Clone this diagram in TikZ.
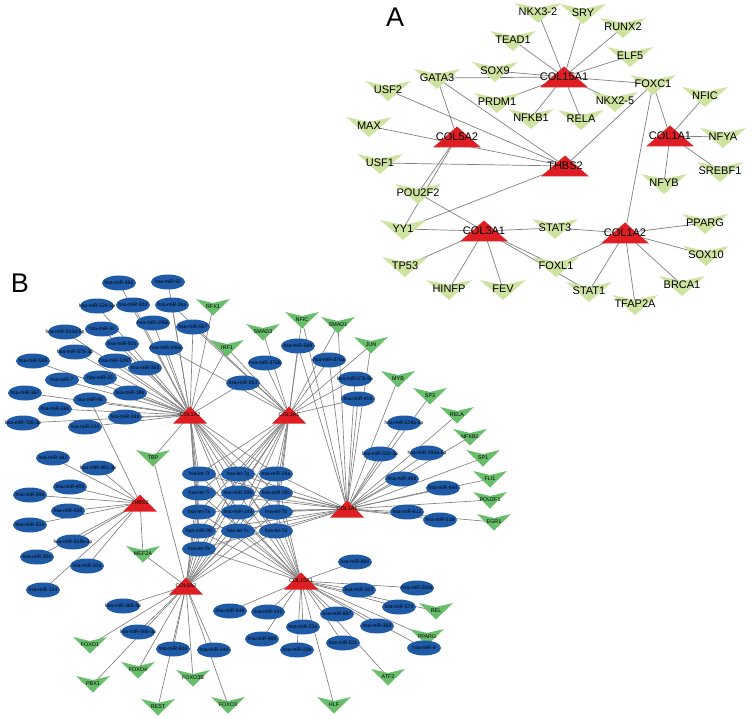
\documentclass[tikz,border=0pt]{standalone}
\usepackage{fontspec}
\setmainfont{Liberation Sans}
\usetikzlibrary{backgrounds}
\definecolor{hubred}{RGB}{222,30,34}
\definecolor{tfpale}{RGB}{207,227,160}
\definecolor{tfgreen}{RGB}{104,190,106}
\definecolor{mirblue}{RGB}{31,90,166}
\definecolor{edgegray}{RGB}{128,128,128}
% red hub triangles, green V markers, blue ellipses
\newcommand{\hubA}[3]{\fill[hubred] (#2) +(-24,10.5) -- +(0,-10.5) -- +(24,10.5) -- cycle;
  \node[labA] (#1) at (#2) {#3};}
\newcommand{\hubB}[3]{\fill[hubred] (#2) +(-17,8.5) -- +(0,-8.5) -- +(17,8.5) -- cycle;
  \node[labB] (#1) at (#2) {#3};}
\newcommand{\tfA}[3]{\fill[tfpale] (#2) +(-23,-9) -- +(0,-4) -- +(23,-9) -- +(0,11) -- cycle;
  \node[labA] (#1) at (#2) {#3};}
\newcommand{\tfB}[3]{\fill[tfgreen] (#2) +(-17,-8) -- +(0,-4) -- +(17,-8) -- +(0,8.5) -- cycle;
  \node[labB] (#1) at (#2) {#3};}
\newcommand{\mirB}[3]{\fill[mirblue] (#2) ellipse (17 and 7.5);
  \node[labM] (#1) at (#2) {#3};}

\begin{document}
\begin{tikzpicture}[x=1pt,y=-1pt,
    labA/.style={font=\fontsize{11}{11}\selectfont,inner sep=0pt},
    labB/.style={font=\fontsize{5.4}{5.4}\selectfont,inner sep=0pt},
    labM/.style={font=\fontsize{5}{5}\selectfont,inner sep=0pt},
    panel/.style={font=\fontsize{27}{27}\selectfont,inner sep=0pt},
    edgeA/.style={edgegray,line width=0.7pt},
    edgeB/.style={edgegray,line width=0.65pt}]
\useasboundingbox (0,0) rectangle (752,719);
%
\node[panel] (lblA) at (395,17) {A};
\node[panel] (lblB) at (20,283) {B};

%
\hubA{aC15}{564,77}{COL15A1}
\hubA{aC5}{457,137}{COL5A2}
\hubA{aC1A1}{670,136}{COL1A1}
\hubA{aTH}{565,166}{THBS2}
\hubA{aC3}{484,231}{COL3A1}
\hubA{aC1A2}{625,233}{COL1A2}
%
\tfA{aNKX32}{538,12}{NKX3-2}
\tfA{aSRY}{583,13}{SRY}
\tfA{aRUNX2}{623,27}{RUNX2}
\tfA{aTEAD1}{513,40}{TEAD1}
\tfA{aELF5}{630,56}{ELF5}
\tfA{aSOX9}{495,71}{SOX9}
\tfA{aGATA3}{437,78}{GATA3}
\tfA{aFOXC1}{653,84}{FOXC1}
\tfA{aUSF2}{388,90}{USF2}
\tfA{aNFIC}{705,96}{NFIC}
\tfA{aPRDM1}{497,102}{PRDM1}
\tfA{aNKX25}{615,101}{NKX2-5}
\tfA{aNFKB1}{531,118}{NFKB1}
\tfA{aRELA}{581,119}{RELA}
\tfA{aMAX}{369,126}{MAX}
\tfA{aNFYA}{723,137}{NFYA}
\tfA{aUSF1}{380,163}{USF1}
\tfA{aSREBF1}{720,171}{SREBF1}
\tfA{aNFYB}{664,183}{NFYB}
\tfA{aPOU2F2}{418,193}{POU2F2}
\tfA{aYY1}{403,229}{YY1}
\tfA{aSTAT3}{555,228}{STAT3}
\tfA{aPPARG}{705,223}{PPARG}
\tfA{aTP53}{405,266}{TP53}
\tfA{aFOXL1}{556,266}{FOXL1}
\tfA{aSOX10}{706,255}{SOX10}
\tfA{aHINFP}{449,289}{HINFP}
\tfA{aFEV}{503,289}{FEV}
\tfA{aSTAT1}{589,291}{STAT1}
\tfA{aBRCA1}{682,285}{BRCA1}
\tfA{aTFAP2A}{635,304}{TFAP2A}

%
\hubB{bC1A2}{190,415}{COL1A2}
\hubB{bC3}{289,415}{COL3A1}
\hubB{bTH}{140,503}{THBS2}
\hubB{bC1A1}{347,509}{COL1A1}
\hubB{bC5}{186,586}{COL5A2}
\hubB{bC15}{301,581}{COL15A1}
%
\tfB{tRFX1}{213,307}{RFX1}
\tfB{tIRF1}{227,348}{IRF1}
\tfB{tSMAD3}{263,332}{SMAD3}
\tfB{tNFIC}{302,320}{NFIC}
\tfB{tSMAD1}{338,325}{SMAD1}
\tfB{tJUN}{371,345}{JUN}
\tfB{tMYB}{398,379}{MYB}
\tfB{tSP3}{430,396}{SP3}
\tfB{tRELA}{457,415}{RELA}
\tfB{tNFKB1}{470,437}{NFKB1}
\tfB{tSP1}{483,458}{SP1}
\tfB{tFLI1}{490,479}{FLI1}
\tfB{tPOU2F1}{490,500}{POU2F1}
\tfB{tEGR1}{494,522}{EGR1}
\tfB{tTBP}{153,458}{TBP}
\tfB{tMEF2A}{143,554}{MEF2A}
\tfB{tREL}{436,611}{REL}
\tfB{tPPARG}{427,637}{PPARG}
\tfB{tATF2}{388,677}{ATF2}
\tfB{tHLF}{334,705}{HLF}
\tfB{tFOXO3}{228,705}{FOXO3}
\tfB{tFOXO1}{90,645}{FOXO1}
\tfB{tFOXO4}{138,670}{FOXO4}
\tfB{tPBX1}{93,684}{PBX1}
\tfB{tFOXO3B}{193,678}{FOXO3B}
\tfB{tREST}{158,707}{REST}
%
\mirB{m496}{119,283}{hsa-miR-496}
\mirB{m92}{168,282}{hsa-miR-92}
\mirB{m5245p}{97,306}{hsa-miR-524-5p}
\mirB{m300}{133,305}{hsa-miR-300}
\mirB{m26a}{172,305}{hsa-miR-26a}
\mirB{m196b}{153,323}{hsa-miR-196b}
\mirB{m567}{193,327}{hsa-miR-567}
\mirB{m520d}{65,332}{hsa-miR-520d-5p}
\mirB{m32}{102,329}{hsa-miR-32}
\mirB{m92b}{122,344}{hsa-miR-92b}
\mirB{m196a}{166,348}{hsa-miR-196a}
\mirB{m5763p}{75,352}{hsa-miR-576-3p}
\mirB{m1297}{115,361}{hsa-miR-1297}
\mirB{m363}{145,368}{hsa-miR-363}
\mirB{m569}{33,361}{hsa-miR-569}
\mirB{m7}{62,380}{hsa-miR-7}
\mirB{m25}{100,378}{hsa-miR-25}
\mirB{m19b}{130,393}{hsa-miR-19b}
\mirB{m367}{25,393}{hsa-miR-367}
\mirB{m96}{90,400}{hsa-miR-96}
\mirB{m26b}{55,409}{hsa-miR-26b}
\mirB{m19a}{125,417}{hsa-miR-19a}
\mirB{m7683p}{23,423}{hsa-miR-768-3p}
\mirB{m224}{85,427}{hsa-miR-224}
\mirB{m563}{243,383}{hsa-miR-563}
\mirB{m376b}{265,363}{hsa-miR-376b}
\mirB{m589}{298,346}{hsa-miR-589}
\mirB{m376a}{329,360}{hsa-miR-376a}
\mirB{m5765p}{355,379}{hsa-miR-576-5p}
\mirB{m410}{358,399}{hsa-miR-410}
\mirB{m518a}{404,423}{hsa-miR-518a-5p}
\mirB{m5323p}{380,454}{hsa-miR-532-3p}
\mirB{m193a}{427,453}{hsa-miR-193a-5p}
\mirB{m498}{402,479}{hsa-miR-498}
\mirB{m944}{443,488}{hsa-miR-944}
\mirB{m612}{407,512}{hsa-miR-612}
\mirB{m218}{440,520}{hsa-miR-218}
\mirB{m182}{53,458}{hsa-miR-182}
\mirB{m4913p}{98,468}{hsa-miR-491-3p}
\mirB{m495}{70,487}{hsa-miR-495}
\mirB{m598}{30,495}{hsa-miR-598}
\mirB{m330}{68,511}{hsa-miR-330}
\mirB{m506}{30,525}{hsa-miR-506}
\mirB{m519b}{73,542}{hsa-miR-519b-3p}
\mirB{m30e}{37,557}{hsa-miR-30e}
\mirB{m30a}{87,566}{hsa-miR-30a}
\mirB{m124}{43,590}{hsa-miR-124}
\mirB{l7f}{199,474}{hsa-let-7f}
\mirB{l7g}{238,474}{hsa-let-7g}
\mirB{m29a}{276,474}{hsa-miR-29a}
\mirB{l7i}{199,493}{hsa-let-7i}
\mirB{m29b}{238,493}{hsa-miR-29b}
\mirB{m29c}{276,493}{hsa-miR-29c}
\mirB{l7a}{199,512}{hsa-let-7a}
\mirB{m143}{238,512}{hsa-miR-143}
\mirB{l7b}{276,512}{hsa-let-7b}
\mirB{m98}{199,531}{hsa-miR-98}
\mirB{l7c}{238,531}{hsa-let-7c}
\mirB{l7d}{276,531}{hsa-let-7d}
\mirB{l7e}{199,549}{hsa-let-7e}
\mirB{m890}{355,562}{hsa-miR-890}
\mirB{m202}{359,590}{hsa-miR-202}
\mirB{m200a}{417,588}{hsa-miR-200a}
\mirB{m570}{399,607}{hsa-miR-570}
\mirB{m649}{230,611}{hsa-miR-649}
\mirB{m141}{268,612}{hsa-miR-141}
\mirB{m887}{337,614}{hsa-miR-887}
\mirB{m23a}{303,627}{hsa-miR-23a}
\mirB{m383}{377,626}{hsa-miR-383}
\mirB{m9}{424,648}{hsa-miR-9}
\mirB{m489}{262,639}{hsa-miR-489}
\mirB{m511}{343,643}{hsa-miR-511}
\mirB{m23b}{297,650}{hsa-miR-23b}
\mirB{m144}{214,650}{hsa-miR-144}
\mirB{m3693p}{123,606}{hsa-miR-369-3p}
\mirB{m5903p}{138,632}{hsa-miR-590-3p}
\mirB{m616}{173,649}{hsa-miR-616}

%
\begin{scope}[on background layer]
    \foreach \t in {aNKX32,aSRY,aRUNX2,aTEAD1,aELF5,aSOX9,aGATA3,aFOXC1,aPRDM1,aNKX25,aNFKB1,aRELA}
        \draw[edgeA] (aC15.center) -- (\t.center);
    \foreach \t in {aUSF2,aMAX,aGATA3,aUSF1,aFOXC1,aYY1}
        \draw[edgeA] (aTH.center) -- (\t.center);
    \foreach \t in {aGATA3,aPOU2F2,aYY1}
        \draw[edgeA] (aC5.center) -- (\t.center);
    \foreach \t in {aFOXC1,aNFIC,aNFYA,aSREBF1,aNFYB}
        \draw[edgeA] (aC1A1.center) -- (\t.center);
    \foreach \t in {aPOU2F2,aYY1,aSTAT3,aTP53,aHINFP,aFEV,aFOXL1,aSTAT1}
        \draw[edgeA] (aC3.center) -- (\t.center);
    \foreach \t in {aFOXC1,aSTAT3,aPPARG,aSOX10,aBRCA1,aTFAP2A,aSTAT1,aFOXL1}
        \draw[edgeA] (aC1A2.center) -- (\t.center);
    %
    \foreach \t in {m496,m92,m5245p,m300,m26a,tRFX1,m196b,m567,m520d,m32,m92b,m196a,m5763p,m1297,
                    m363,m569,m7,m25,m19b,m367,m96,m26b,m19a,m7683p,m224,m563,tTBP,tIRF1}
        \draw[edgeB] (bC1A2.center) -- (\t.center);
    \foreach \t in {tSMAD3,tNFIC,tSMAD1,tJUN,tIRF1,m589,m376b,m376a,m563,m5765p,m410,m196a,m567,m26a}
        \draw[edgeB] (bC3.center) -- (\t.center);
    \foreach \t in {tNFIC,tSMAD1,tJUN,tMYB,tSP3,tRELA,tNFKB1,tSP1,tFLI1,tPOU2F1,tEGR1,m589,m376a,
                    m5765p,m410,m518a,m5323p,m193a,m498,m944,m612,m218}
        \draw[edgeB] (bC1A1.center) -- (\t.center);
    \foreach \t in {m182,m4913p,m495,m598,m330,m506,m519b,m30e,m30a,m124,tMEF2A,m96}
        \draw[edgeB] (bTH.center) -- (\t.center);
    \foreach \t in {tTBP,tMEF2A,m3693p,m5903p,tFOXO1,m616,m144,tFOXO4,tPBX1,tFOXO3B,tREST,tFOXO3}
        \draw[edgeB] (bC5.center) -- (\t.center);
    \foreach \t in {m890,m202,m200a,m570,tREL,m649,m141,m887,m23a,m383,tPPARG,m9,m489,m511,m23b,tATF2,tHLF}
        \draw[edgeB] (bC15.center) -- (\t.center);
    \foreach \h in {bC1A2,bC3,bC1A1,bC5,bC15}
        \foreach \t in {l7f,l7g,m29a,l7i,m29b,m29c,l7a,m143,l7b,m98,l7c,l7d,l7e}
            \draw[edgeB] (\h.center) -- (\t.center);
\end{scope}
\end{tikzpicture}
\end{document}
